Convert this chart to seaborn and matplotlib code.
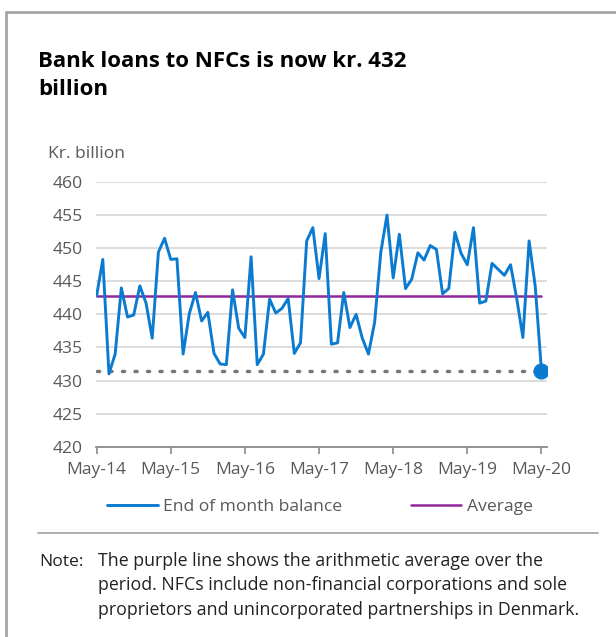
import numpy as np
import pandas as pd
import matplotlib
matplotlib.use("Agg")
import matplotlib.pyplot as plt
from matplotlib.lines import Line2D
import seaborn as sns

# ---- data (kr. billion, end of month, May-14 .. May-20) ----
months = pd.date_range("2014-05-01", "2020-05-01", freq="MS")
balance = [
    442.8, 448.3, 431.0, 434.0, 444.0, 439.6, 439.9, 444.3,
    441.7, 436.4, 449.4, 451.5, 448.3, 448.4, 434.0, 440.1, 443.3, 439.0, 440.3, 434.1,
    432.5, 432.4, 443.7, 437.9, 436.5, 448.7, 432.4, 434.0, 442.3, 440.2, 440.9, 442.4,
    434.1, 435.7, 451.1, 453.1, 445.4, 452.2, 435.5, 435.7, 443.3, 438.0, 440.0, 436.4,
    434.0, 438.8, 449.4, 455.0, 445.5, 452.1, 443.9, 445.3, 449.3, 448.2, 450.4, 449.8,
    443.1, 443.9, 452.4, 449.2, 447.5, 453.1, 441.7, 442.0, 447.7, 446.8, 445.9, 447.5,
    442.4, 436.5, 451.1, 444.2, 431.5,
]
average_value = 442.8
tick_labels = ["May-14", "May-15", "May-16", "May-17", "May-18", "May-19", "May-20"]
y_ticks = [420, 425, 430, 435, 440, 445, 450, 455, 460]

df = pd.DataFrame({"idx": np.arange(len(balance)), "balance": balance})
df["average"] = average_value

sns.set_theme(style="white")
plt.rcParams["font.family"] = ["Open Sans", "Noto Sans", "DejaVu Sans"]

BLUE = "#0a7bd0"
PURPLE = "#92279b"
GRAY_TXT = "#595959"
GRID = "#d9d9d9"
FS = 12.6

W, H = 616, 637
fig = plt.figure(figsize=(W / 100, H / 100), dpi=100)

def fx(px):
    return px / W

def fy(py):
    return 1 - py / H

ax = fig.add_axes([fx(96), fy(446.7), fx(547) - fx(96), fy(182) - fy(446.7)])

sns.lineplot(data=df, x="idx", y="average", ax=ax, color=PURPLE, linewidth=1.8,
             label="Average", zorder=3)
sns.lineplot(data=df, x="idx", y="balance", ax=ax, color=BLUE, linewidth=2.1,
             label="End of month balance", zorder=4)
last = df.iloc[-1]
ax.plot([df["idx"].iloc[0], last["idx"]], [last["balance"], last["balance"]],
        linestyle=(0, (0.6, 3.0)), color="#777777", linewidth=2.5,
        dash_capstyle="round", zorder=2)
sns.scatterplot(x=[last["idx"]], y=[last["balance"]], ax=ax, color=BLUE, s=115,
                edgecolor=BLUE, zorder=5, legend=False)

ax.set_xlim(-0.1, 72.9)
ax.set_ylim(420, 460)
ax.set_yticks(y_ticks)
ax.set_yticklabels([str(v) for v in y_ticks])
ax.set_xticks(np.arange(0, 73, 12))
ax.set_xticklabels(tick_labels)
ax.grid(axis="y", color=GRID, linewidth=1.3)
ax.set_axisbelow(True)
for s in ["top", "right", "left"]:
    ax.spines[s].set_visible(False)
ax.spines["bottom"].set_color("#8c8c8c")
ax.spines["bottom"].set_linewidth(1.3)
ax.tick_params(axis="x", direction="out", length=5, width=1.2, color="#8c8c8c",
               labelsize=FS, labelcolor=GRAY_TXT, pad=6, bottom=True)
ax.tick_params(axis="y", length=0, labelsize=FS, labelcolor=GRAY_TXT, pad=(96 - 53) * 0.72)
for lab in ax.get_yticklabels():
    lab.set_horizontalalignment("left")
ax.set_xlabel("")
ax.set_ylabel("")

# legend below
handles, labels = ax.get_legend_handles_labels()
if ax.legend_:
    ax.legend_.remove()
order = [labels.index("End of month balance"), labels.index("Average")]
leg = fig.legend([handles[i] for i in order], [labels[i] for i in order],
                 loc="center", bbox_to_anchor=(fx(320), fy(507)), ncol=2,
                 frameon=False, fontsize=FS, handlelength=2.9, handletextpad=0.3,
                 columnspacing=3.9, labelcolor=GRAY_TXT, borderpad=0, borderaxespad=0)

# title and unit
fig.text(fx(38.5), fy(66.7), "Bank loans to NFCs is now kr. 432", fontsize=16,
         fontweight="bold", color="#000000", va="baseline", ha="left")
fig.text(fx(38.5), fy(95), "billion", fontsize=16,
         fontweight="bold", color="#000000", va="baseline", ha="left")
fig.text(fx(48), fy(158), "Kr. billion", fontsize=FS, color=GRAY_TXT, va="baseline", ha="left")

# separator and note
fig.add_artist(Line2D([fx(38), fx(598)], [fy(533.3), fy(533.3)], color="#a0a0a0", linewidth=1.2))
note_lines = ["The purple line shows the arithmetic average over the",
              "period. NFCs include non-financial corporations and sole",
              "proprietors and unincorporated partnerships in Denmark."]
fig.text(fx(39), fy(566), "Note:", fontsize=FS, color="#222222", va="baseline", ha="left")
for i, line in enumerate(note_lines):
    fig.text(fx(98), fy(566 + 24.5 * i), line, fontsize=12.8, color="#222222",
             va="baseline", ha="left")

# outer frame (left and top)
fig.add_artist(Line2D([fx(6), fx(6)], [fy(12), 0], color="#a6a6a6", linewidth=2))
fig.add_artist(Line2D([fx(6), 1], [fy(12), fy(12)], color="#a6a6a6", linewidth=2))

fig.savefig("out.png", dpi=100)
